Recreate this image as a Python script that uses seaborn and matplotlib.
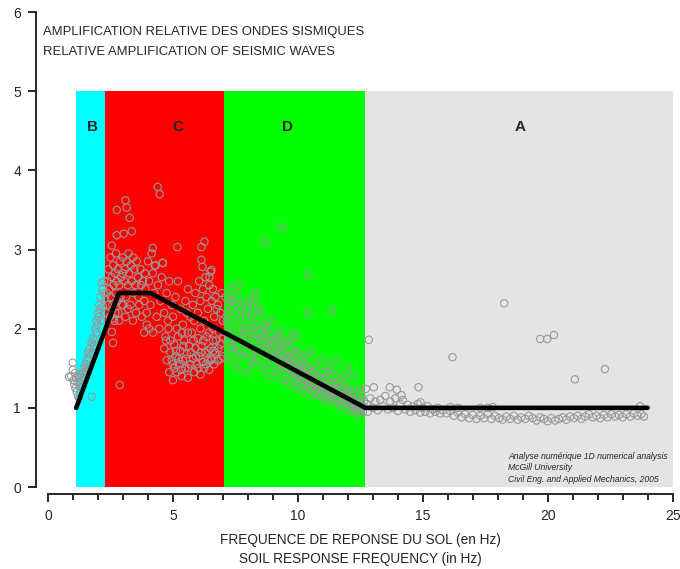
import pandas as pd
import seaborn as sns
import matplotlib.pyplot as plt
from matplotlib.ticker import MultipleLocator

# frequency bands (Hz) and their labels / colours
zone_edges = [1.12, 2.27, 7.05, 12.67, 25.0]
zone_names = ['B', 'C', 'D', 'A']
zone_colors = ['#00ffff', '#ff0000', '#00ff00', '#e4e4e4']
zone_label_x = [1.79, 5.18, 9.6, 18.9]

# simplified amplification curve
trend_freq = [1.13, 2.83, 4.1, 12.7, 24.0]
trend_amp = [1.0, 2.45, 2.45, 1.0, 1.0]

# measured points (frequency Hz, relative amplification), read per band
zone_b_points = [
    (0.84, 1.39), (0.92, 1.40), (0.99, 1.57), (0.99, 1.48), (1.02, 1.35), (1.05, 1.30),
    (1.08, 1.44), (1.10, 1.25), (1.12, 1.38), (1.15, 1.20), (1.18, 1.32), (1.20, 1.15),
    (1.22, 1.40), (1.25, 1.12), (1.28, 1.30), (1.30, 1.42), (1.33, 1.25), (1.36, 1.35),
    (1.40, 1.45), (1.43, 1.50), (1.46, 1.38), (1.50, 1.55), (1.52, 1.45), (1.55, 1.60),
    (1.58, 1.50), (1.60, 1.70), (1.63, 1.62), (1.66, 1.75), (1.75, 1.14), (1.70, 1.68),
    (1.75, 1.82), (1.78, 1.70), (1.80, 1.88), (1.83, 1.78), (1.86, 1.85), (1.90, 2.00),
    (1.93, 1.95), (1.95, 2.10), (1.98, 2.05), (2.00, 2.20), (2.03, 2.15), (2.05, 2.30),
    (2.08, 2.25), (2.10, 2.40), (2.12, 2.10), (2.15, 2.58), (2.18, 2.50), (2.20, 2.28),
    (2.22, 2.45), (2.25, 2.60), (2.28, 2.38),
]

zone_c_points = [
    (2.32, 2.20), (2.35, 2.45), (2.38, 2.60), (2.40, 2.30), (2.42, 2.75), (2.45, 2.50),
    (2.48, 2.15), (2.50, 2.90), (2.52, 2.40), (2.55, 2.65), (2.58, 2.30), (2.60, 2.80),
    (2.62, 2.55), (2.65, 2.10), (2.68, 2.70), (2.70, 2.45), (2.72, 2.95), (2.75, 2.60),
    (2.78, 2.35), (2.80, 2.75), (2.82, 2.20), (2.85, 2.55), (2.88, 2.85), (2.90, 2.40),
    (2.92, 2.65), (2.95, 2.30), (2.98, 2.70), (2.55, 3.05), (2.75, 3.18), (2.75, 3.50),
    (3.03, 3.20), (3.10, 3.62), (3.15, 3.53), (3.27, 3.40), (3.35, 3.23), (2.87, 1.29),
    (2.60, 1.82), (2.55, 1.96), (2.60, 2.13), (3.00, 2.90), (3.05, 2.60), (3.08, 2.75),
    (3.12, 2.40), (3.15, 2.85), (3.20, 2.55), (3.22, 2.95), (3.25, 2.70), (3.30, 2.30),
    (3.32, 2.80), (3.35, 2.60), (3.40, 2.90), (3.42, 2.45), (3.45, 2.75), (3.50, 2.55),
    (3.52, 2.20), (3.55, 2.85), (3.60, 2.65), (3.62, 2.40), (3.65, 2.30), (3.70, 2.75),
    (3.72, 2.55), (3.75, 2.15), (3.80, 2.60), (3.85, 2.35), (3.88, 2.70), (3.90, 2.50),
    (3.95, 2.20), (2.70, 2.20), (2.85, 2.10), (3.00, 2.30), (3.10, 2.15), (3.20, 2.25),
    (3.40, 2.10), (4.00, 2.85), (4.05, 2.60), (4.10, 2.30), (4.15, 2.95), (4.20, 2.70),
    (4.25, 2.45), (4.30, 2.80), (4.35, 2.15), (4.40, 2.55), (4.45, 2.00), (4.50, 2.35),
    (4.55, 2.65), (4.60, 2.83), (4.65, 2.20), (4.70, 1.90), (4.75, 2.45), (4.80, 2.10),
    (4.85, 2.60), (4.90, 1.85), (4.95, 2.30), (4.05, 2.00), (4.20, 1.95), (3.85, 1.95),
    (3.95, 2.05), (4.39, 3.79), (4.47, 3.70), (4.19, 3.02), (4.27, 2.80), (4.59, 2.83),
    (4.65, 1.75), (4.75, 1.60), (4.85, 1.45), (4.90, 1.70), (5.00, 1.35), (5.00, 1.55),
    (5.05, 1.80), (5.10, 1.65), (5.15, 1.45), (5.20, 1.90), (5.25, 1.55), (5.30, 1.72),
    (5.35, 1.40), (5.40, 1.60), (5.45, 1.85), (5.50, 1.50), (5.55, 1.68), (5.60, 1.38),
    (5.65, 1.78), (5.70, 1.55), (5.75, 1.95), (5.80, 1.62), (5.85, 1.45), (5.90, 1.75),
    (5.95, 1.55), (6.00, 1.88), (6.05, 1.65), (6.10, 1.42), (6.15, 1.78), (6.20, 1.58),
    (6.25, 1.50), (6.30, 1.70), (6.35, 1.90), (6.40, 1.60), (6.45, 1.48), (6.50, 1.75),
    (6.55, 1.62), (6.60, 1.85), (6.65, 1.55), (6.70, 1.70), (6.80, 1.60), (6.90, 1.80),
    (7.00, 1.65), (5.00, 2.15), (5.10, 2.40), (5.20, 2.60), (5.30, 2.25), (5.40, 2.05),
    (5.50, 2.35), (5.60, 2.50), (5.70, 2.15), (5.80, 2.30), (5.90, 2.45), (6.00, 2.20),
    (6.05, 2.60), (6.10, 2.35), (6.20, 2.50), (6.25, 2.10), (6.30, 2.65), (6.35, 2.40),
    (6.40, 2.25), (6.45, 2.55), (6.50, 2.72), (6.55, 2.35), (6.60, 2.50), (6.65, 2.15),
    (6.70, 2.40), (6.80, 2.30), (6.90, 2.20), (7.00, 2.10), (5.18, 3.03), (6.26, 3.10),
    (6.14, 3.03), (6.14, 2.87), (6.18, 2.78), (6.54, 2.74), (6.46, 2.65), (5.15, 2.00),
    (5.60, 1.95), (6.10, 2.00), (6.60, 2.00), (6.85, 1.95), (4.72, 1.85), (4.82, 2.00),
    (4.95, 1.60), (5.05, 1.50), (5.12, 1.72), (5.22, 1.62), (5.32, 1.48), (5.42, 1.78),
    (5.52, 1.62), (5.62, 1.50), (5.72, 1.70), (5.82, 1.85), (5.92, 1.65), (6.02, 1.50),
    (6.12, 1.70), (6.22, 1.85), (6.32, 1.55), (6.42, 1.72), (6.52, 1.60), (6.62, 1.72),
    (6.72, 1.85), (6.82, 1.75), (6.92, 1.62), (7.02, 1.90), (6.75, 2.25), (6.95, 2.45),
    (5.85, 2.10), (5.35, 1.95), (6.45, 1.95), (5.55, 2.20),
]

zone_d_points = [
    (7.10, 2.40), (7.15, 2.10), (7.20, 1.85), (7.25, 2.30), (7.30, 1.60), (7.35, 2.50),
    (7.40, 2.00), (7.45, 1.75), (7.50, 2.20), (7.55, 1.50), (7.60, 2.40), (7.65, 1.90),
    (7.70, 2.10), (7.75, 1.65), (7.80, 2.30), (7.85, 1.80), (7.90, 2.00), (7.95, 1.45),
    (8.00, 2.25), (8.05, 1.70), (8.10, 1.95), (8.15, 2.15), (8.20, 1.55), (8.25, 2.35),
    (8.30, 1.85), (8.35, 2.05), (8.40, 1.65), (8.45, 1.95), (8.50, 2.20), (8.55, 1.75),
    (8.60, 1.50), (8.65, 1.90), (8.70, 2.05), (8.75, 1.60), (8.80, 1.80), (8.85, 1.40),
    (8.90, 2.10), (8.95, 1.70), (9.00, 1.55), (9.05, 1.85), (9.10, 1.65), (9.15, 1.45),
    (9.20, 1.75), (9.25, 1.90), (9.30, 1.55), (9.35, 1.70), (9.40, 1.35), (9.45, 1.60),
    (9.50, 1.80), (9.55, 1.50), (9.60, 1.42), (9.65, 1.65), (9.70, 1.30), (9.75, 1.55),
    (9.80, 1.45), (9.85, 1.68), (9.90, 1.35), (9.95, 1.50), (10.00, 1.25), (10.05, 1.55),
    (10.10, 1.40), (10.15, 1.30), (10.20, 1.60), (10.25, 1.45), (10.30, 1.20), (10.35, 1.38),
    (10.40, 1.50), (10.45, 1.25), (10.50, 1.35), (10.55, 1.45), (10.60, 1.18), (10.65, 1.30),
    (10.70, 1.55), (10.75, 1.22), (10.80, 1.38), (10.85, 1.15), (10.90, 1.28), (10.95, 1.45),
    (11.00, 1.12), (11.05, 1.30), (11.10, 1.20), (11.15, 1.38), (11.20, 1.10), (11.25, 1.25),
    (11.30, 1.50), (11.35, 1.15), (11.40, 1.30), (11.45, 1.05), (11.50, 1.20), (11.55, 1.40),
    (11.60, 1.10), (11.65, 1.25), (11.70, 1.02), (11.75, 1.15), (11.80, 1.30), (11.85, 1.08),
    (11.90, 1.20), (11.95, 0.98), (12.00, 1.12), (12.05, 1.25), (12.10, 1.02), (12.15, 1.15),
    (12.20, 0.95), (12.25, 1.08), (12.30, 1.18), (12.35, 0.98), (12.40, 1.10), (12.45, 0.92),
    (12.50, 1.05), (12.55, 1.15), (12.60, 0.95), (12.65, 1.08), (8.69, 3.09), (9.37, 3.28),
    (10.40, 2.68), (10.40, 2.20), (11.36, 2.23), (9.93, 1.88), (9.29, 1.98), (8.30, 2.45),
    (7.60, 2.55), (9.80, 1.95), (10.50, 1.70), (11.00, 1.60), (11.50, 1.60), (12.20, 1.40),
    (12.00, 1.50), (7.12, 1.95), (7.22, 2.20), (7.32, 1.75), (7.42, 2.35), (7.52, 1.85),
    (7.62, 1.70), (7.72, 2.25), (7.82, 1.95), (7.92, 2.15), (8.02, 1.85), (8.12, 1.60),
    (8.22, 2.00), (8.32, 1.70), (8.42, 2.25), (8.52, 1.85), (8.62, 1.95), (8.72, 1.75),
    (8.82, 2.00), (8.92, 1.85), (9.02, 1.70), (9.12, 1.90), (9.22, 1.62), (9.32, 1.80),
    (9.42, 1.52), (9.52, 1.65), (9.62, 1.55), (9.72, 1.75), (9.82, 1.58), (9.92, 1.45),
    (10.02, 1.40), (10.12, 1.52), (10.22, 1.35), (10.32, 1.48), (10.42, 1.32), (10.52, 1.25),
    (10.62, 1.42), (10.72, 1.30), (10.82, 1.25), (10.92, 1.36), (11.02, 1.22), (11.12, 1.28),
    (11.22, 1.18), (11.32, 1.30), (11.42, 1.20), (11.52, 1.12), (11.62, 1.32), (11.72, 1.22),
    (11.82, 1.12), (11.92, 1.08), (12.02, 1.20), (12.12, 1.10), (12.22, 1.05), (12.32, 1.02),
    (12.42, 0.98), (12.52, 0.98), (12.62, 1.02), (9.60, 1.85), (10.00, 1.70), (10.30, 1.65),
    (11.20, 1.45), (11.80, 1.40), (12.50, 1.25), (8.10, 2.35), (7.30, 2.35),
]

zone_a_points = [
    (12.72, 1.24), (13.04, 1.26), (13.68, 1.26), (13.96, 1.23), (14.83, 1.26), (14.15, 1.16),
    (14.91, 1.07), (12.84, 1.86), (12.75, 1.05), (12.80, 0.95), (12.90, 1.12), (13.00, 1.00),
    (13.10, 1.08), (13.20, 0.97), (13.30, 1.10), (13.40, 1.02), (13.50, 1.15), (13.60, 0.98),
    (13.70, 1.08), (13.80, 1.00), (13.90, 1.12), (14.00, 0.96), (14.10, 1.05), (14.20, 1.10),
    (14.30, 0.98), (14.40, 1.04), (14.50, 0.95), (14.60, 1.02), (14.70, 0.97), (14.80, 1.05),
    (14.90, 0.94), (15.00, 1.00), (15.10, 0.95), (15.20, 1.02), (15.30, 0.93), (15.40, 0.98),
    (15.50, 0.95), (15.60, 1.00), (15.70, 0.93), (15.80, 0.97), (15.95, 0.93), (16.10, 0.96),
    (16.25, 0.90), (16.40, 0.94), (16.55, 0.88), (16.70, 0.92), (16.85, 0.87), (17.00, 0.91),
    (17.15, 0.86), (17.30, 0.90), (17.45, 0.87), (17.60, 0.92), (17.75, 0.86), (17.90, 0.90),
    (18.05, 0.87), (18.20, 0.85), (18.35, 0.89), (18.50, 0.86), (18.65, 0.90), (18.80, 0.85),
    (18.95, 0.88), (19.10, 0.86), (19.25, 0.90), (19.40, 0.87), (19.55, 0.84), (19.70, 0.88),
    (19.85, 0.86), (20.00, 0.83), (20.15, 0.87), (20.30, 0.84), (20.45, 0.86), (20.60, 0.88),
    (20.75, 0.85), (20.90, 0.89), (21.05, 0.87), (21.20, 0.90), (21.35, 0.86), (21.50, 0.89),
    (21.65, 0.92), (21.80, 0.88), (21.95, 0.90), (22.10, 0.87), (22.25, 0.91), (22.40, 0.88),
    (22.55, 0.92), (22.70, 0.89), (22.85, 0.91), (23.00, 0.88), (23.15, 0.92), (23.30, 0.89),
    (23.45, 0.93), (23.60, 0.90), (23.75, 0.92), (23.85, 0.89), (16.40, 1.00), (17.30, 1.00),
    (17.60, 1.00), (17.80, 1.01), (23.70, 1.02), (16.10, 1.01), (16.19, 1.64), (18.26, 2.32),
    (19.70, 1.87), (19.98, 1.87), (20.25, 1.92), (21.09, 1.36), (22.29, 1.49),
]

title_lines = ['AMPLIFICATION RELATIVE DES ONDES SISMIQUES',
               'RELATIVE AMPLIFICATION OF SEISMIC WAVES']
xlabel_lines = ['FREQUENCE DE REPONSE DU SOL (en Hz)',
                'SOIL RESPONSE FREQUENCY (in Hz)']
credit_lines = ['Analyse numérique 1D numerical analysis',
                'McGill University',
                'Civil Eng. and Applied Mechanics, 2005']

sns.set_style('ticks')
plt.rcParams['font.family'] = ['Liberation Sans', 'DejaVu Sans']

fig = plt.figure(figsize=(6.8, 5.69), dpi=100)
ax = fig.add_axes([0.0706, 0.1441, 0.9185, 0.8348])

# coloured frequency bands
for i in range(len(zone_names)):
    ax.axvspan(zone_edges[i], zone_edges[i + 1], ymin=0, ymax=5 / 6,
               color=zone_colors[i], lw=0, zorder=0)
    ax.text(zone_label_x[i], 4.55, zone_names[i], fontsize=11,
            fontweight='bold', ha='center', va='center', zorder=4)

all_points = zone_b_points + zone_c_points + zone_d_points + zone_a_points
points = pd.DataFrame(all_points, columns=['freq', 'amp'])
sns.scatterplot(data=points, x='freq', y='amp', ax=ax, marker='o', s=28,
                facecolors='none', edgecolor='#999999', linewidth=0.8, zorder=2)

sns.lineplot(x=trend_freq, y=trend_amp, sort=False, color='black', lw=3.3,
             ax=ax, zorder=3)

ax.set_xlim(0, 25)
ax.set_ylim(0, 6)
ax.xaxis.set_major_locator(MultipleLocator(5))
ax.xaxis.set_minor_locator(MultipleLocator(1))
ax.yaxis.set_major_locator(MultipleLocator(1))
sns.despine(ax=ax, offset={'left': 8.5, 'bottom': 5}, trim=True)
for side in ['left', 'bottom']:
    ax.spines[side].set_linewidth(1.4)
ax.tick_params(which='major', length=6, width=1.4, labelsize=10, pad=5)
ax.tick_params(axis='x', which='minor', length=4, width=1.4)

ax.text(-0.2, 5.75, title_lines[0], fontsize=9.4, ha='left', va='center')
ax.text(-0.2, 5.49, title_lines[1], fontsize=9.4, ha='left', va='center')

for k, line in enumerate(credit_lines):
    ax.text(18.42, 0.39 - k * 0.145, line, fontsize=6.2, style='italic',
            ha='left', va='center')

ax.set_xlabel('\n'.join(xlabel_lines), fontsize=9.8, linespacing=1.5, labelpad=7)
ax.set_ylabel('')

fig.savefig('out.png', dpi=100)
